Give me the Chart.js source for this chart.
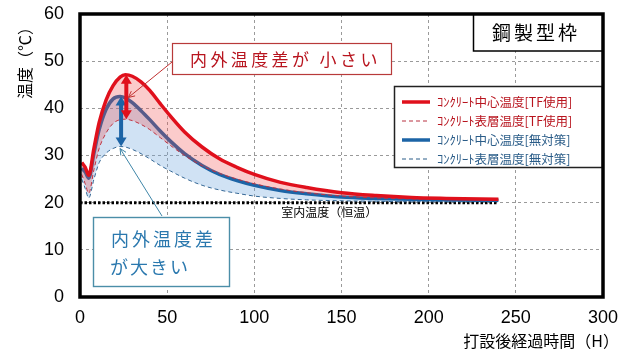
<!DOCTYPE html>
<html>
<head>
<meta charset="utf-8">
<script src="https://cdn.jsdelivr.net/npm/chart.js@4.4.1/dist/chart.umd.min.js"></script>
<style>
  html, body { margin: 0; padding: 0; background: #fff; }
  #wrap { width: 634px; height: 360px; }
</style>
</head>
<body>
<div id="wrap"><canvas id="chart" width="634" height="360"></canvas></div>
<script>
// --- Data ---
const hours       = [1, 3, 5, 8, 11, 15, 19, 23, 26, 30, 35, 40, 46, 52, 60, 70, 80, 90, 100, 115, 130, 150, 170, 190, 210, 240];
const centerTF    = [28.5, 27.5, 25.8, 31.5, 37.0, 41.8, 44.8, 46.6, 47.1, 46.8, 45.6, 43.8, 41.0, 38.3, 35.0, 31.8, 29.3, 27.5, 26.0, 24.3, 23.2, 22.1, 21.5, 21.1, 20.9, 20.7];
const surfaceTF   = [26.0, 24.0, 22.0, 27.0, 31.5, 34.8, 36.8, 37.6, 37.7, 37.4, 36.6, 35.5, 33.8, 32.1, 30.0, 27.8, 26.2, 25.0, 24.0, 22.9, 22.1, 21.4, 21.0, 20.8, 20.7, 20.6];
const centerNone  = [27.3, 26.5, 25.2, 30.5, 35.5, 39.8, 42.0, 42.5, 42.2, 41.2, 39.5, 37.6, 35.2, 33.0, 30.4, 27.9, 26.0, 24.7, 23.7, 22.6, 21.9, 21.2, 20.9, 20.7, 20.6, 20.5];
const surfaceNone = [25.0, 23.0, 21.0, 25.0, 28.5, 30.5, 31.5, 31.9, 31.8, 31.3, 30.4, 29.3, 27.9, 26.7, 25.2, 23.7, 22.7, 22.0, 21.4, 20.9, 20.6, 20.4, 20.3, 20.2, 20.2, 20.2];
const roomHours   = [0, 240];
const roomTemp    = [20, 20];

const seriesLabels = ['ｺﾝｸﾘｰﾄ中心温度[TF使用]', 'ｺﾝｸﾘｰﾄ表層温度[TF使用]', 'ｺﾝｸﾘｰﾄ中心温度[無対策]', 'ｺﾝｸﾘｰﾄ表層温度[無対策]'];
const roomLabel = '室内温度（恒温）';
const yTitle = '温度（℃）';
const xTitle = '打設後経過時間（H）';
const formLabel = '鋼製型枠';
const smallDiffText = '内外温度差が 小さい';
const largeDiffText = ['内外温度差', 'が大きい'];

// index used for the double arrows
const redArrowIdx = hours.indexOf(26);
const blueArrowIdx = hours.indexOf(23);

// --- Colours ---
const RED = '#e0101c';
const RED_DARK = '#b8141e';
const BLUE = '#1c64a6';
const BLUE_DARK = '#2a5c88';
const BLUE_TEXT = '#2a78ae';
const JP = '"Noto Sans CJK JP", "Noto Sans", sans-serif';
const NUM = '"Liberation Sans Narrow", "Liberation Sans", sans-serif';

function pts(ys, xs) {
  return ys.map((y, i) => ({ x: xs[i], y: y }));
}

function spacedText(ctx, text, x, y, gap) {
  for (const ch of text) {
    ctx.fillText(ch, x, y);
    x += ctx.measureText(ch).width + gap;
  }
}

function arrowHead(ctx, x, y, dir, w, h) {
  // dir = -1 points up, 1 points down
  ctx.beginPath();
  ctx.moveTo(x, y);
  ctx.lineTo(x - w / 2, y - dir * h);
  ctx.lineTo(x + w / 2, y - dir * h);
  ctx.closePath();
  ctx.fill();
}

function doubleArrow(ctx, x, y1, y2, color) {
  ctx.save();
  ctx.strokeStyle = color;
  ctx.fillStyle = color;
  ctx.lineWidth = 4;
  ctx.beginPath();
  ctx.moveTo(x, y1 + 6);
  ctx.lineTo(x, y2 - 6);
  ctx.stroke();
  arrowHead(ctx, x, y1, -1, 11, 9);
  arrowHead(ctx, x, y2, 1, 11, 9);
  ctx.restore();
}

function leader(ctx, x1, y1, x2, y2, color) {
  ctx.save();
  ctx.strokeStyle = color;
  ctx.lineWidth = 1;
  ctx.beginPath();
  ctx.moveTo(x1, y1);
  ctx.lineTo(x2, y2);
  ctx.stroke();
  // small open arrow tip at (x2, y2)
  const a = Math.atan2(y2 - y1, x2 - x1);
  ctx.beginPath();
  ctx.moveTo(x2 - 7 * Math.cos(a - 0.45), y2 - 7 * Math.sin(a - 0.45));
  ctx.lineTo(x2, y2);
  ctx.lineTo(x2 - 7 * Math.cos(a + 0.45), y2 - 7 * Math.sin(a + 0.45));
  ctx.stroke();
  ctx.restore();
}

function frame(ctx, area) {
  ctx.save();
  ctx.strokeStyle = '#000';
  ctx.lineWidth = 3.5;
  ctx.strokeRect(area.left, area.top, area.right - area.left, area.bottom - area.top);
  ctx.restore();
}

// --- Annotation plugin ---
const annotations = {
  id: 'annotations',
  afterDraw(chart) {
    const ctx = chart.ctx;
    const xs = chart.scales.x;
    const ys = chart.scales.y;
    const area = chart.chartArea;

    // axis titles
    ctx.save();
    ctx.fillStyle = '#000';
    ctx.font = '16px ' + JP;
    ctx.textAlign = 'center';
    ctx.textBaseline = 'middle';
    ctx.translate(25, 59);
    ctx.rotate(-Math.PI / 2);
    ctx.fillText(yTitle, 0, 0);
    ctx.restore();

    ctx.save();
    ctx.fillStyle = '#000';
    ctx.font = '16px ' + JP;
    ctx.textAlign = 'right';
    ctx.textBaseline = 'middle';
    ctx.fillText(xTitle, 619, 341);
    ctx.restore();

    // room temperature label
    ctx.save();
    ctx.fillStyle = '#000';
    ctx.font = '12px ' + JP;
    ctx.textAlign = 'center';
    ctx.textBaseline = 'middle';
    ctx.fillText(roomLabel, xs.getPixelForValue(143), ys.getPixelForValue(20) + 10);
    ctx.restore();

    // double arrows
    doubleArrow(ctx, xs.getPixelForValue(hours[blueArrowIdx]) + 1,
      ys.getPixelForValue(centerNone[blueArrowIdx]), ys.getPixelForValue(surfaceNone[blueArrowIdx]), BLUE);
    doubleArrow(ctx, xs.getPixelForValue(hours[redArrowIdx]) + 1,
      ys.getPixelForValue(centerTF[redArrowIdx]), ys.getPixelForValue(surfaceTF[redArrowIdx]), RED);

    // "small difference" callout
    leader(ctx, 172, 62, xs.getPixelForValue(hours[redArrowIdx]) + 3, ys.getPixelForValue(42.3), '#c03030');
    ctx.save();
    ctx.fillStyle = '#fff';
    ctx.fillRect(172, 43, 220, 32);
    ctx.strokeStyle = '#b83a3a';
    ctx.lineWidth = 1.2;
    ctx.strokeRect(172.5, 43.5, 219, 31);
    ctx.fillStyle = RED_DARK;
    ctx.font = '17px ' + JP;
    ctx.textBaseline = 'middle';
    spacedText(ctx, smallDiffText, 190, 60, 3.4);
    ctx.restore();

    // "large difference" callout
    leader(ctx, 162, 216, xs.getPixelForValue(hours[blueArrowIdx]), ys.getPixelForValue(surfaceNone[blueArrowIdx]) + 2, '#3f86a8');
    ctx.save();
    ctx.fillStyle = '#fff';
    ctx.fillRect(93, 217, 137, 70);
    ctx.strokeStyle = '#4b8ea8';
    ctx.lineWidth = 1.4;
    ctx.strokeRect(93.5, 217.5, 136, 69);
    ctx.fillStyle = BLUE_TEXT;
    ctx.font = '18px ' + JP;
    ctx.textBaseline = 'middle';
    spacedText(ctx, largeDiffText[0], 111, 239, 3);
    spacedText(ctx, largeDiffText[1], 110, 267, 2);
    ctx.restore();

    // form type box
    ctx.save();
    ctx.fillStyle = '#fff';
    ctx.fillRect(473, area.top, area.right - 473, 37);
    ctx.strokeStyle = '#000';
    ctx.lineWidth = 1.5;
    ctx.strokeRect(473.5, area.top, area.right - 473.5, 37);
    ctx.fillStyle = '#000';
    ctx.font = '19px ' + JP;
    ctx.textBaseline = 'middle';
    spacedText(ctx, formLabel, 492, area.top + 19, 3);
    ctx.restore();

    // legend
    const lx = 394, ly = 86, lw = area.right - 394, lh = 82;
    ctx.save();
    ctx.fillStyle = '#fff';
    ctx.fillRect(lx, ly, lw, lh);
    ctx.strokeStyle = '#222';
    ctx.lineWidth = 1.5;
    ctx.strokeRect(lx + 0.5, ly + 0.5, lw - 1, lh - 1);
    ctx.font = '12.5px ' + JP;
    ctx.textBaseline = 'middle';
    chart.data.datasets.slice(0, 4).forEach((ds, i) => {
      const y = 102 + i * 19;
      ctx.strokeStyle = ds.borderColor;
      ctx.lineWidth = ds.borderWidth;
      ctx.setLineDash(ds.borderDash || []);
      ctx.beginPath();
      ctx.moveTo(402, y);
      ctx.lineTo(430, y);
      ctx.stroke();
      ctx.setLineDash([]);
      ctx.fillStyle = i < 2 ? RED_DARK : BLUE_DARK;
      ctx.fillText(ds.label, 437, y);
    });
    ctx.restore();

    // plot frame on top
    frame(ctx, area);
  }
};

const ctx = document.getElementById('chart').getContext('2d');
new Chart(ctx, {
  type: 'line',
  data: {
    datasets: [
      {
        label: seriesLabels[0],
        data: pts(centerTF, hours),
        borderColor: RED,
        borderWidth: 3.5,
        backgroundColor: 'rgba(242, 70, 70, 0.28)',
        fill: '+1'
      },
      {
        label: seriesLabels[1],
        data: pts(surfaceTF, hours),
        borderColor: '#b83040',
        borderWidth: 1,
        borderDash: [4, 3],
        fill: false
      },
      {
        label: seriesLabels[2],
        data: pts(centerNone, hours),
        borderColor: BLUE,
        borderWidth: 3.5,
        backgroundColor: 'rgba(110, 165, 220, 0.32)',
        fill: '+1'
      },
      {
        label: seriesLabels[3],
        data: pts(surfaceNone, hours),
        borderColor: BLUE_DARK,
        borderWidth: 1,
        borderDash: [4, 3],
        fill: false
      },
      {
        label: roomLabel,
        data: pts(roomTemp, roomHours),
        borderColor: '#000',
        borderWidth: 3,
        borderDash: [2.5, 2],
        fill: false
      }
    ]
  },
  options: {
    responsive: false,
    animation: false,
    devicePixelRatio: 1,
    layout: { padding: { left: 0, right: 31, top: 14, bottom: 0 } },
    elements: {
      point: { radius: 0, hoverRadius: 0 },
      line: { tension: 0.4, cubicInterpolationMode: 'monotone' }
    },
    scales: {
      x: {
        type: 'linear',
        min: 0,
        max: 300,
        afterFit: s => { s.height = 63; s.paddingLeft = 0; s.paddingRight = 0; },
        ticks: { stepSize: 50, color: '#000', font: { family: NUM, size: 18 }, padding: 10, maxRotation: 0 },
        grid: { color: '#9a9a9a', lineWidth: 1, drawTicks: false },
        border: { display: false, dash: [3, 3] }
      },
      y: {
        min: 0,
        max: 60,
        afterFit: s => { s.width = 80; s.paddingTop = 0; s.paddingBottom = 0; },
        ticks: { stepSize: 10, color: '#000', font: { family: NUM, size: 18 }, padding: 16 },
        grid: { color: '#9a9a9a', lineWidth: 1, drawTicks: false },
        border: { display: false, dash: [3, 3] }
      }
    },
    plugins: {
      legend: { display: false },
      tooltip: { enabled: false }
    }
  },
  plugins: [annotations]
});
</script>
</body>
</html>
